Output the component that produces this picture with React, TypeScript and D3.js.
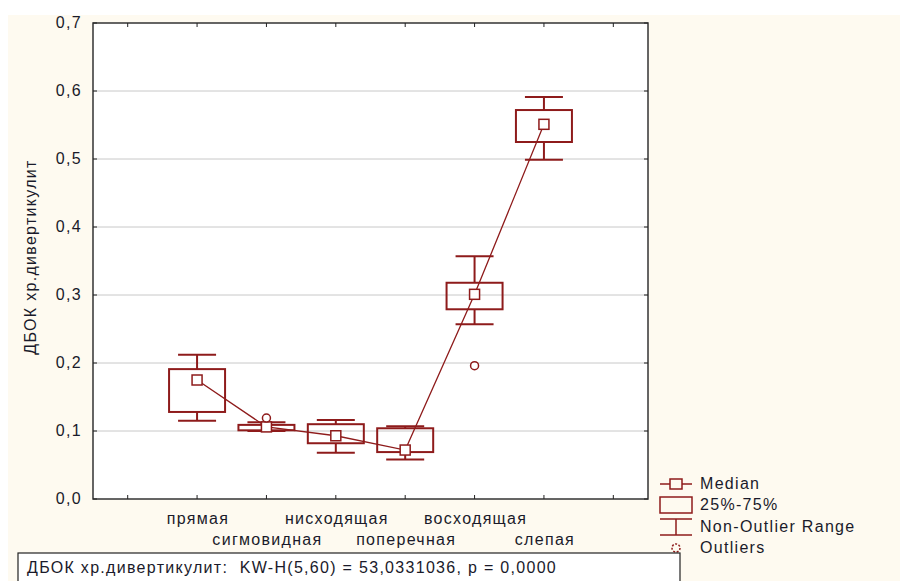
import React, { useRef, useEffect } from 'react'
import * as d3 from 'd3'

// data
const categories = ['прямая', 'сигмовидная', 'нисходящая', 'поперечная', 'восходящая', 'слепая']
const medians = [0.175, 0.106, 0.093, 0.072, 0.301, 0.551]
const q1 = [0.128, 0.101, 0.082, 0.069, 0.279, 0.525]
const q3 = [0.191, 0.109, 0.110, 0.104, 0.318, 0.572]
const whiskLow = [0.115, 0.100, 0.068, 0.058, 0.257, 0.499]
const whiskHigh = [0.212, 0.113, 0.116, 0.107, 0.357, 0.591]
const outliers: [number, number][] = [[1, 0.119], [4, 0.196]]
const yTicks = [0, 0.1, 0.2, 0.3, 0.4, 0.5, 0.6, 0.7]
const legendItems = ['Median', '25%-75%', 'Non-Outlier Range', 'Outliers']

const App = () => {
    const element = useRef<SVGSVGElement>(null)

    useEffect(() => {
        const width = 900
        const height = 581
        const margin = { left: 93, top: 23, right: 648, bottom: 499 }
        const red = '#8e1b1b'
        const font = 'Arial, "Liberation Sans", sans-serif'
        const fs = 16
        const ls = 1.3

        const root = d3.select(element.current)
        root.selectAll('*').remove()

        // cream background
        root.append('rect')
            .attr('x', 8).attr('y', 15)
            .attr('width', width - 8).attr('height', height - 15)
            .attr('fill', '#fefaf0')

        // slots: blank, 6 categories, blank
        const slots = ['_a', ...categories, '_b']
        const x = d3.scaleBand().domain(slots).range([margin.left, margin.right])
        const cx = (c: string) => (x(c) as number) + x.bandwidth() / 2
        const y = d3.scaleLinear().domain([0, 0.7]).range([margin.bottom, margin.top])

        root.append('rect')
            .attr('x', margin.left).attr('y', margin.top)
            .attr('width', margin.right - margin.left)
            .attr('height', margin.bottom - margin.top)
            .attr('fill', '#fff')

        // gridlines
        root.append('g').selectAll('line')
            .data(yTicks.slice(1, -1))
            .enter().append('line')
            .attr('x1', margin.left).attr('x2', margin.right)
            .attr('y1', d => y(d)).attr('y2', d => y(d))
            .attr('stroke', '#c8c8c8').attr('stroke-width', 1)

        // frame
        root.append('rect')
            .attr('x', margin.left).attr('y', margin.top)
            .attr('width', margin.right - margin.left)
            .attr('height', margin.bottom - margin.top)
            .attr('fill', 'none').attr('stroke', '#333').attr('stroke-width', 1.5)

        // ticks inward
        const ticks = root.append('g').attr('stroke', '#222').attr('stroke-width', 1)
        yTicks.forEach(t => {
            ticks.append('line').attr('x1', margin.left).attr('x2', margin.left + 4).attr('y1', y(t)).attr('y2', y(t))
            ticks.append('line').attr('x1', margin.right).attr('x2', margin.right - 4).attr('y1', y(t)).attr('y2', y(t))
        })
        slots.forEach(s => {
            ticks.append('line').attr('x1', cx(s)).attr('x2', cx(s)).attr('y1', margin.top).attr('y2', margin.top + 4)
            ticks.append('line').attr('x1', cx(s)).attr('x2', cx(s)).attr('y1', margin.bottom).attr('y2', margin.bottom - 4)
        })

        const txt = (sel: any) => sel
            .attr('font-family', font).attr('font-size', fs)
            .attr('letter-spacing', ls).attr('fill', '#1a1a2a')

        // y labels
        root.append('g').selectAll('text')
            .data(yTicks)
            .enter().append('text')
            .attr('x', 82).attr('y', d => y(d) + 5)
            .attr('text-anchor', 'end')
            .call(txt)
            .text(d => d3.format('.1f')(d).replace('.', ','))

        root.append('text')
            .attr('transform', 'translate(36,257) rotate(-90)')
            .attr('text-anchor', 'middle')
            .call(txt)
            .text('ДБОК хр.дивертикулит')

        // x labels, alternating rows
        root.append('g').selectAll('text')
            .data(categories)
            .enter().append('text')
            .attr('x', d => cx(d) + 1)
            .attr('y', (d, i) => i % 2 === 0 ? 524 : 545)
            .attr('text-anchor', 'middle')
            .call(txt)
            .text(d => d)

        const boxW = 56
        const capW = 38
        const g = root.append('g').attr('stroke', red).attr('stroke-width', 2).attr('fill', 'none')

        categories.forEach((c, i) => {
            const px = cx(c)
            g.append('line').attr('x1', px).attr('x2', px).attr('y1', y(whiskHigh[i])).attr('y2', y(q3[i]))
            g.append('line').attr('x1', px).attr('x2', px).attr('y1', y(q1[i])).attr('y2', y(whiskLow[i]))
            g.append('line').attr('x1', px - capW / 2).attr('x2', px + capW / 2).attr('y1', y(whiskHigh[i])).attr('y2', y(whiskHigh[i]))
            g.append('line').attr('x1', px - capW / 2).attr('x2', px + capW / 2).attr('y1', y(whiskLow[i])).attr('y2', y(whiskLow[i]))
            g.append('rect')
                .attr('x', px - boxW / 2).attr('y', y(q3[i]))
                .attr('width', boxW).attr('height', y(q1[i]) - y(q3[i]))
        })

        // median line
        const line = d3.line<number>().x((d, i) => cx(categories[i])).y(d => y(d))
        root.append('path')
            .datum(medians)
            .attr('d', line)
            .attr('fill', 'none').attr('stroke', red).attr('stroke-width', 1.3)

        // median squares
        root.append('g').selectAll('rect')
            .data(medians)
            .enter().append('rect')
            .attr('x', (d, i) => cx(categories[i]) - 5)
            .attr('y', d => y(d) - 5)
            .attr('width', 10).attr('height', 10)
            .attr('fill', '#fff').attr('stroke', red).attr('stroke-width', 1.5)

        // outliers
        root.append('g').selectAll('circle')
            .data(outliers)
            .enter().append('circle')
            .attr('cx', d => cx(categories[d[0]]))
            .attr('cy', d => y(d[1]))
            .attr('r', 4)
            .attr('fill', '#fff').attr('stroke', red).attr('stroke-width', 1.5)

        // legend
        const lg = root.append('g')
        const lx = 676
        const ly = [484, 505, 527, 548]
        lg.append('line').attr('x1', lx - 16).attr('x2', lx + 16).attr('y1', ly[0]).attr('y2', ly[0]).attr('stroke', red).attr('stroke-width', 1.5)
        lg.append('rect').attr('x', lx - 6).attr('y', ly[0] - 5).attr('width', 12).attr('height', 10).attr('fill', '#fefaf0').attr('stroke', red).attr('stroke-width', 1.5)
        lg.append('rect').attr('x', lx - 16).attr('y', ly[1] - 8).attr('width', 32).attr('height', 16).attr('fill', 'none').attr('stroke', red).attr('stroke-width', 1.5)
        lg.append('line').attr('x1', lx - 16).attr('x2', lx + 16).attr('y1', ly[2] - 8).attr('y2', ly[2] - 8).attr('stroke', red).attr('stroke-width', 1.5)
        lg.append('line').attr('x1', lx - 16).attr('x2', lx + 16).attr('y1', ly[2] + 8).attr('y2', ly[2] + 8).attr('stroke', red).attr('stroke-width', 1.5)
        lg.append('line').attr('x1', lx).attr('x2', lx).attr('y1', ly[2] - 8).attr('y2', ly[2] + 8).attr('stroke', red).attr('stroke-width', 1.5)
        lg.append('circle').attr('cx', lx).attr('cy', ly[3]).attr('r', 4).attr('fill', 'none').attr('stroke', red).attr('stroke-width', 1.5).attr('stroke-dasharray', '2,1.5')
        lg.selectAll('text')
            .data(legendItems)
            .enter().append('text')
            .attr('x', 700).attr('y', (d, i) => ly[i] + 5)
            .call(txt)
            .text(d => d)

        // stats box
        root.append('rect')
            .attr('x', 18).attr('y', 553).attr('width', 662).attr('height', 30)
            .attr('fill', '#fff').attr('stroke', '#222').attr('stroke-width', 1.2)
        root.append('text')
            .attr('x', 27).attr('y', 573)
            .call(txt)
            .style('white-space', 'pre')
            .text('ДБОК хр.дивертикулит:  KW-H(5,60) = 53,0331036, p = 0,0000')
    }, [])

    return (
        <svg ref={element} width={900} height={581}
            style={{ position: 'absolute', left: 0, top: 0, display: 'block' }} />
    )
}

export default App
